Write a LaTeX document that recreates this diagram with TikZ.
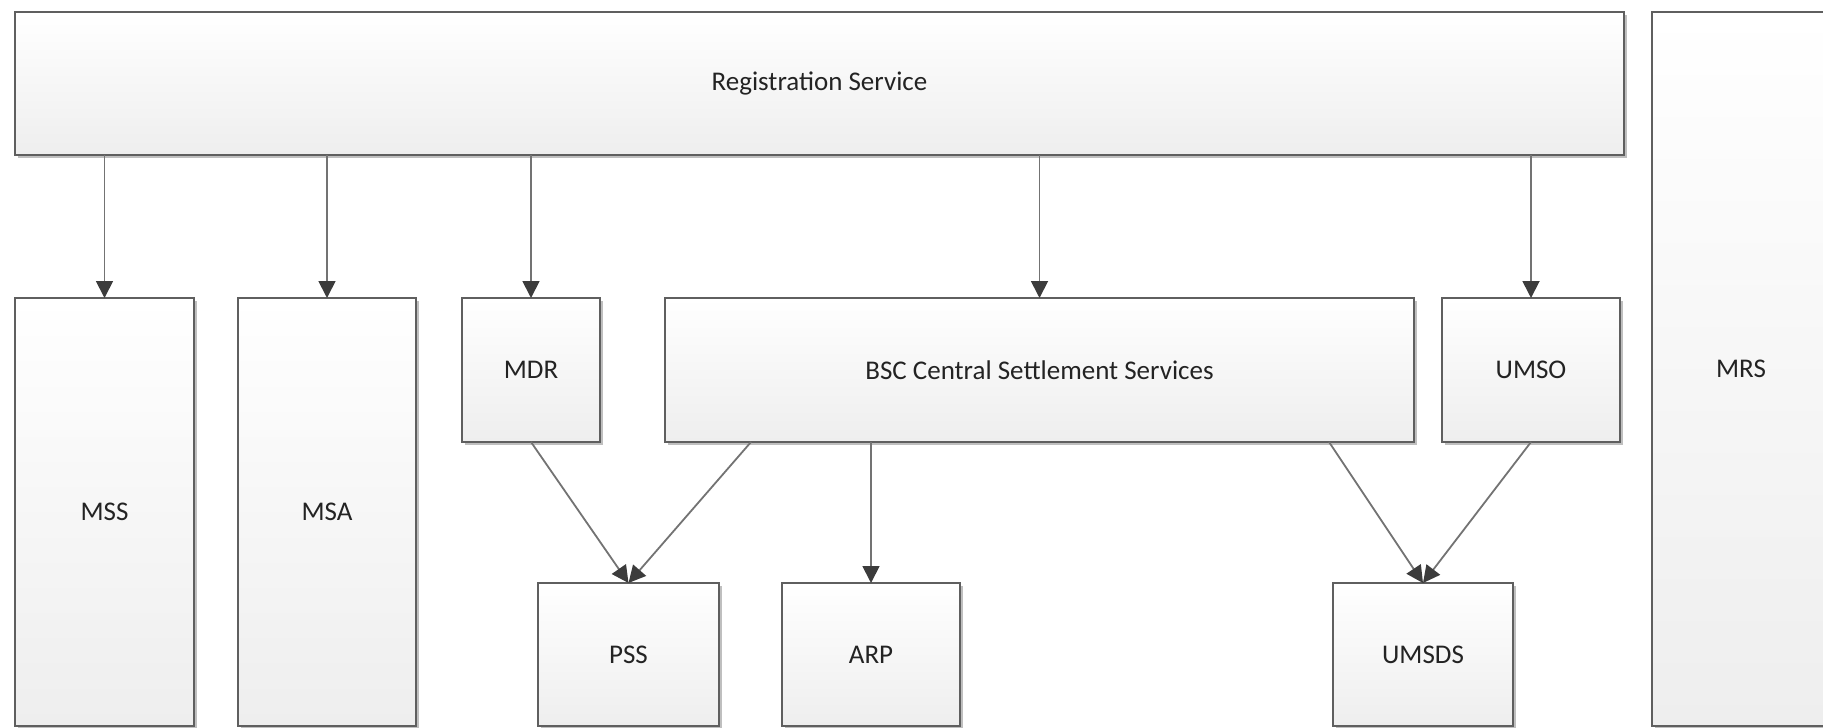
\documentclass[tikz,border=0pt]{standalone}
\usepackage{fontspec}
\setmainfont{Carlito}
\usetikzlibrary{arrows.meta,shadows,calc}
\definecolor{boxline}{RGB}{95,95,95}
\definecolor{conline}{RGB}{115,115,115}
\definecolor{tipcol}{RGB}{60,60,60}
\definecolor{txt}{RGB}{35,35,35}
\tikzset{
  box/.style={draw=boxline, line width=2pt, top color=white, bottom color={rgb,255:red,238;green,238;blue,238},
    inner sep=0pt, outer sep=0pt, text=txt, font=\fontsize{27}{32}\selectfont,
    drop shadow={shadow xshift=3pt, shadow yshift=-3pt, opacity=0.25, fill=black}},
  conn/.style={draw=conline, line width=1.8pt, -{Triangle[length=17pt,width=17pt,color=tipcol]}}
}
\begin{document}
\begin{tikzpicture}[x=1pt,y=-1pt]
\useasboundingbox (0,0) rectangle (1823,728);
\node[box, minimum width=1609pt, minimum height=143pt] (reg) at (819.5,83.5) {Registration Service};
\node[box, minimum width=178pt, minimum height=714pt] (mrs) at (1741,369) {MRS};
\node[box, minimum width=179pt, minimum height=428pt] (mss) at (104.5,512) {MSS};
\node[box, minimum width=178pt, minimum height=428pt] (msa) at (327,512) {MSA};
\node[box, minimum width=138pt, minimum height=144pt] (mdr) at (531,370) {MDR};
\node[box, minimum width=749pt, minimum height=144pt] (bsc) at (1039.5,370) {BSC Central Settlement Services};
\node[box, minimum width=178pt, minimum height=144pt] (umso) at (1531,370) {UMSO};
\node[box, minimum width=181pt, minimum height=143pt] (pss) at (628.5,654.5) {PSS};
\node[box, minimum width=178pt, minimum height=143pt] (arp) at (871,654.5) {ARP};
\node[box, minimum width=180pt, minimum height=143pt] (umsds) at (1423,654.5) {UMSDS};
\coordinate (bscl) at ($(bsc.south west)+(86,0)$);
\coordinate (bscr) at ($(bsc.south east)+(-85,0)$);
\draw[conn] (reg.south -| mss.north) -- (mss.north);
\draw[conn] (reg.south -| msa.north) -- (msa.north);
\draw[conn] (reg.south -| mdr.north) -- (mdr.north);
\draw[conn] (reg.south -| bsc.north) -- (bsc.north);
\draw[conn] (reg.south -| umso.north) -- (umso.north);
\draw[conn] (mdr.south) -- (pss.north);
\draw[conn] (bscl) -- (pss.north);
\draw[conn] (bsc.south -| arp.north) -- (arp.north);
\draw[conn] (bscr) -- (umsds.north);
\draw[conn] (umso.south) -- (umsds.north);
\end{tikzpicture}
\end{document}
